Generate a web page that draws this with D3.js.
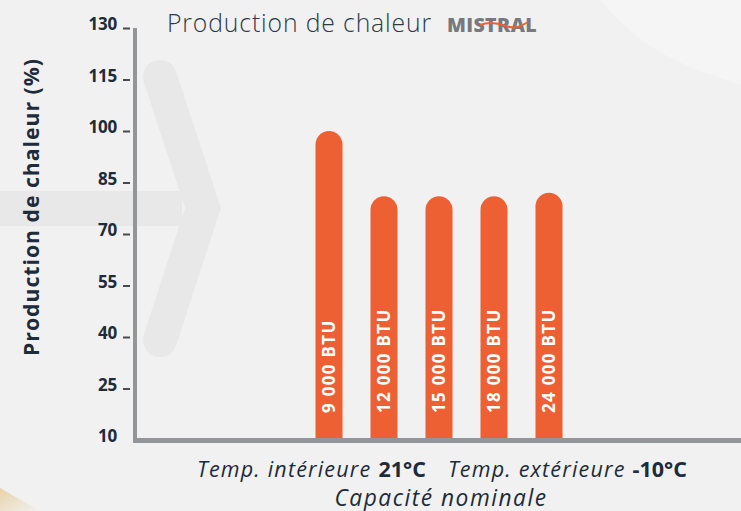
<!DOCTYPE html>
<html>
<head>
<meta charset="utf-8">
<script src="https://cdn.jsdelivr.net/npm/d3@7"></script>
<style>
  html, body { margin: 0; padding: 0; background: #f1f1f1; }
  svg { display: block; }
</style>
</head>
<body>
<script>
// données
var categories = ["9 000 BTU", "12 000 BTU", "15 000 BTU", "18 000 BTU", "24 000 BTU"];
var values = [100, 81, 81, 81, 82];
var yTicks = [10, 25, 40, 55, 70, 85, 100, 115, 130];

var W = 741, H = 511;
var font = "'Open Sans', Lato, sans-serif";

// moitié taille de police, moitié espacement pour atteindre une largeur
function fit(sel, size, w) {
  sel.style("font-size", size + "px").style("letter-spacing", "0px");
  var l = sel.node().getComputedTextLength();
  sel.style("font-size", (size * Math.pow(w / l, 0.5)) + "px");
  l = sel.node().getComputedTextLength();
  sel.style("letter-spacing", ((w - l) / sel.text().length) + "px");
}

var svg = d3.select("body").append("svg")
    .attr("width", W)
    .attr("height", H);

// fond
svg.append("rect").attr("width", W).attr("height", H).attr("fill", "#f1f1f1");
// arc clair en haut à droite
svg.append("path")
    .attr("d", "M600,0 C650,60 700,70 741,85 L741,0 Z")
    .attr("fill", "#f5f5f5");

// tache beige en bas à gauche
var defs = svg.append("defs");
var grad = defs.append("linearGradient").attr("id", "beige")
    .attr("x1", "0").attr("y1", "0").attr("x2", "1").attr("y2", "1");
grad.append("stop").attr("offset", "0").attr("stop-color", "#e8d2a8");
grad.append("stop").attr("offset", "1").attr("stop-color", "#f1f1f1");
svg.append("path")
    .attr("d", "M0,488 L40,511 L0,511 Z")
    .attr("fill", "url(#beige)");

// flèche décorative en arrière-plan
svg.append("rect")
    .attr("x", 0).attr("y", 191).attr("width", 182).attr("height", 35)
    .attr("fill", "#e8e8e8");
svg.append("path")
    .attr("d", "M160,77 L203,208 L160,340")
    .attr("fill", "none")
    .attr("stroke", "#e8e8e8")
    .attr("stroke-width", 34)
    .attr("stroke-linecap", "round")
    .attr("stroke-linejoin", "miter");

// échelles
var y = d3.scaleLinear().domain([10, 130]).range([440, 28]);
var x = d3.scaleBand().domain(categories)
    .range([315.5, 562.5])
    .paddingInner(0.509)
    .paddingOuter(0);

// axe y (graduations + libellés)
var yAxis = d3.axisLeft(y)
    .tickValues(yTicks)
    .tickSize(7)
    .tickPadding(6);

var gy = svg.append("g")
    .attr("transform", "translate(130,0)")
    .call(yAxis);
gy.select(".domain").remove();
gy.selectAll(".tick line")
    .attr("stroke", "#4a4a4a")
    .attr("stroke-width", 2)
    .attr("opacity", function(d) { return d === 10 ? 0 : 1; });
gy.selectAll(".tick text")
    .attr("fill", "#1d2b3a")
    .attr("dy", "0.1em")
    .style("font-family", font)
    .style("font-weight", "700")
    .style("font-size", "17px")
    .style("letter-spacing", "-0.2px");

// barres arrondies en haut
var bw = x.bandwidth();
function barPath(d, i) {
  var x0 = x(categories[i]), top = y(d), bottom = 440, r = bw / 2;
  return "M" + x0 + "," + bottom +
    "L" + x0 + "," + (top + r) +
    "A" + r + "," + r + " 0 0 1 " + (x0 + bw) + "," + (top + r) +
    "L" + (x0 + bw) + "," + bottom + "Z";
}
svg.append("g").selectAll("path")
    .data(values)
    .join("path")
    .attr("d", barPath)
    .attr("fill", "#ec6033");

// libellés dans les barres
svg.append("g").selectAll("text")
    .data(categories)
    .join("text")
    .attr("transform", function(d) {
      return "translate(" + (x(d) + bw / 2 + 6) + ",413) rotate(-90)";
    })
    .attr("fill", "#ffffff")
    .style("font-family", font)
    .style("font-weight", "700")
    .style("font-size", "17px")
    .style("letter-spacing", "1.3px")
    .text(function(d) { return d; });

// lignes des axes
svg.append("line")
    .attr("x1", 135).attr("x2", 135).attr("y1", 28).attr("y2", 443)
    .attr("stroke", "#939598").attr("stroke-width", 4);
svg.append("line")
    .attr("x1", 133).attr("x2", W).attr("y1", 440.5).attr("y2", 440.5)
    .attr("stroke", "#939598").attr("stroke-width", 5);

// titre de l'axe y
var ylab = svg.append("text")
    .attr("transform", "translate(39,207) rotate(-90)")
    .attr("text-anchor", "middle")
    .attr("fill", "#1d2b3a")
    .style("font-family", font)
    .style("font-weight", "700")
    .text("Production de chaleur (%)");
fit(ylab, 19.5, 298);

// titre
var title = svg.append("text")
    .attr("x", 167).attr("y", 32)
    .attr("fill", "#2b3a4a")
    .style("font-family", font)
    .style("font-weight", "300")
    .text("Production de chaleur");
fit(title, 23, 265);
var logo = svg.append("text")
    .attr("x", 447).attr("y", 32)
    .attr("fill", "#78797d")
    .style("font-family", font)
    .style("font-weight", "800")
    .text("MISTRAL");
fit(logo, 19, 90);
svg.append("path")
    .attr("d", "M480,25 C490,21 498,23 506,26 S520,27 528,22")
    .attr("fill", "none")
    .attr("stroke", "#ec6033")
    .attr("stroke-width", 2);

// texte du bas, ligne 1 : morceaux placés l'un après l'autre
var parts = [
  { t: "Temp. intérieure", it: true, gap: 7 },
  { t: "21°C", it: false, gap: 22 },
  { t: "Temp. extérieure", it: true, gap: 7 },
  { t: "-10°C", it: false, gap: 0 }
];
var pieces = svg.append("g").selectAll("text")
    .data(parts)
    .join("text")
    .attr("y", 477)
    .attr("fill", "#1d2b3a")
    .style("font-family", font)
    .style("font-size", "21.5px")
    .style("font-style", function(d) { return d.it ? "italic" : "normal"; })
    .style("font-weight", function(d) { return d.it ? "400" : "700"; })
    .text(function(d) { return d.t; });
function lineWidth() {
  return d3.sum(pieces.nodes(), function(n) { return n.getComputedTextLength(); }) +
    d3.sum(parts, function(d) { return d.gap; });
}
// espacement ajouté aux parties en italique pour atteindre 490 px
var itChars = d3.sum(parts, function(d) { return d.it ? d.t.length : 0; });
var extra = Math.max(0, (490 - lineWidth()) / itChars);
pieces.filter(function(d) { return d.it; }).style("letter-spacing", extra + "px");
var widths = pieces.nodes().map(function(n) { return n.getComputedTextLength(); });
var cx = 442 - lineWidth() / 2;
pieces.attr("x", function(d, i) {
  var px = cx;
  cx += widths[i] + d.gap;
  return px;
});

var line2 = svg.append("text")
    .attr("x", 441).attr("y", 505.5)
    .attr("text-anchor", "middle")
    .attr("fill", "#1d2b3a")
    .style("font-family", font)
    .style("font-style", "italic")
    .text("Capacité nominale");
fit(line2, 20, 213);
</script>
</body>
</html>
